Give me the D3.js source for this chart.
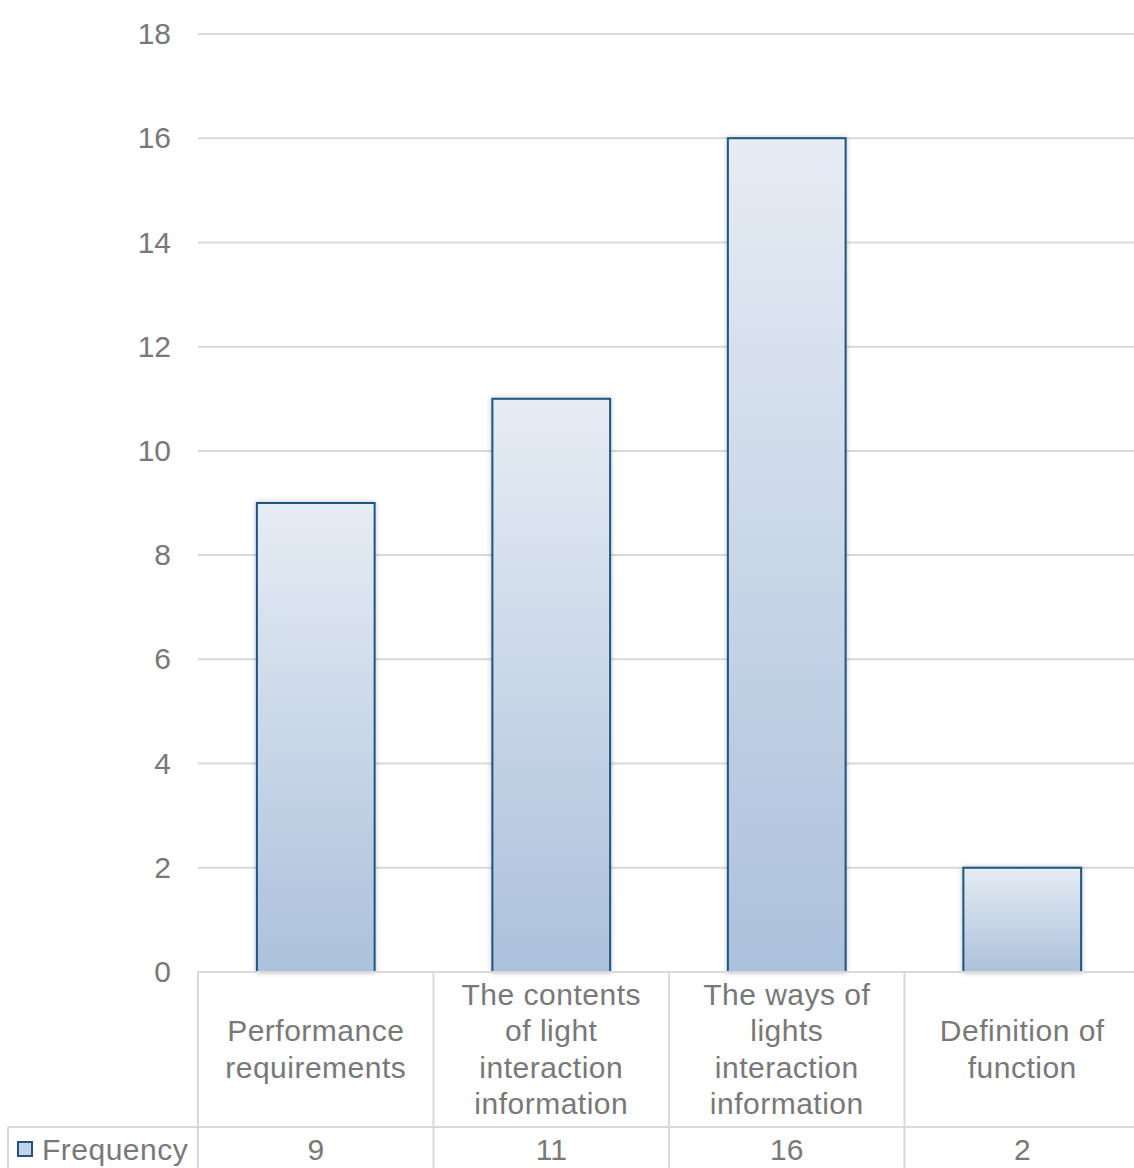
<!DOCTYPE html>
<html>
<head>
<meta charset="utf-8">
<script src="https://cdn.jsdelivr.net/npm/d3@7"></script>
<style>
  html, body { margin: 0; padding: 0; background: #fff; }
  svg { display: block; }
</style>
</head>
<body>
<svg id="chart" width="1134" height="1168"></svg>
<script>
// Frequency of requirement categories
const categories = [
  ["Performance", "requirements"],
  ["The contents", "of light", "interaction", "information"],
  ["The ways of", "lights", "interaction", "information"],
  ["Definition of", "function"]
];
const seriesName = "Frequency";
const values = [9, 11, 16, 2];
const yTicks = [0, 2, 4, 6, 8, 10, 12, 14, 16, 18];

const svg = d3.select("#chart");
const font = "Liberation Sans, Arial, sans-serif";
const fontSize = 30;
const spacing = 0.5;
const textColor = "#787878";
const gridColor = "#d9d9d9";

const plot = { left: 198, right: 1140, top: 34, bottom: 972 };
const tableMid = 1127, tableLeft = 8, tableBottom = 1200;

const x = d3.scaleBand()
  .domain(d3.range(categories.length))
  .range([plot.left, plot.right])
  .paddingInner(0.5).paddingOuter(0.25);
const band = d3.scaleBand()
  .domain(d3.range(categories.length))
  .range([plot.left, plot.right]);
const y = d3.scaleLinear().domain([0, 18]).range([plot.bottom, plot.top]);

const defs = svg.append("defs");
const shadow = defs.append("filter").attr("id", "shadow")
  .attr("x", "-20%").attr("y", "-20%").attr("width", "140%").attr("height", "140%");
shadow.append("feDropShadow").attr("dx", 0).attr("dy", 0).attr("stdDeviation", 2.5)
  .attr("flood-color", "#000").attr("flood-opacity", 0.25);

// y axis labels
const yAxis = d3.axisLeft(y).tickValues(yTicks).tickSize(0).tickPadding(27);
const gy = svg.append("g").attr("transform", `translate(${plot.left},0)`).call(yAxis);
gy.select(".domain").remove();
gy.selectAll("text")
  .attr("font-family", font).attr("font-size", fontSize).attr("fill", textColor);

// horizontal gridlines
svg.append("g").selectAll("line").data(yTicks.filter(t => t > 0)).join("line")
  .attr("x1", plot.left).attr("x2", plot.right)
  .attr("y1", d => y(d)).attr("y2", d => y(d))
  .attr("stroke", gridColor).attr("stroke-width", 2);

// bars with a vertical gradient, light at the top
const barGrad = values.map((v, i) => {
  const g = defs.append("linearGradient").attr("id", "barFill" + i)
    .attr("gradientUnits", "userSpaceOnUse")
    .attr("x1", 0).attr("x2", 0).attr("y1", y(v)).attr("y2", y(0));
  g.append("stop").attr("offset", "0%").attr("stop-color", "#e6ecf4");
  g.append("stop").attr("offset", "100%").attr("stop-color", "#acc1dc");
  return "url(#barFill" + i + ")";
});
svg.append("g").selectAll("rect").data(values).join("rect")
  .attr("x", (d, i) => x(i))
  .attr("y", d => y(d))
  .attr("width", x.bandwidth())
  .attr("height", d => y(0) - y(d))
  .attr("fill", (d, i) => barGrad[i])
  .attr("stroke", "#1f5582").attr("stroke-width", 2)
  .attr("filter", "url(#shadow)");

// data table grid
const tg = svg.append("g").attr("stroke", gridColor).attr("stroke-width", 2);
tg.append("line").attr("x1", plot.left).attr("x2", plot.right)
  .attr("y1", plot.bottom).attr("y2", plot.bottom);
tg.append("line").attr("x1", tableLeft).attr("x2", plot.right)
  .attr("y1", tableMid).attr("y2", tableMid);
tg.append("line").attr("x1", tableLeft).attr("x2", tableLeft)
  .attr("y1", tableMid).attr("y2", tableBottom);
tg.selectAll(".v").data(d3.range(categories.length)).join("line")
  .attr("x1", i => band(i)).attr("x2", i => band(i))
  .attr("y1", plot.bottom).attr("y2", tableBottom);

// category labels
const lineH = 36.5;
const cellMid = (plot.bottom + tableMid) / 2;
svg.append("g").selectAll("text").data(categories).join("text")
  .attr("font-family", font).attr("font-size", fontSize).attr("fill", textColor)
  .attr("letter-spacing", spacing)
  .attr("text-anchor", "middle")
  .each(function(lines, i) {
    const cx = band(i) + band.bandwidth() / 2;
    const first = cellMid - (lines.length - 1) * lineH / 2 + 10;
    d3.select(this).selectAll("tspan").data(lines).join("tspan")
      .attr("x", cx).attr("y", (d, k) => first + k * lineH).text(d => d);
  });

// series row
svg.append("g").selectAll("text").data(values).join("text")
  .attr("font-family", font).attr("font-size", fontSize).attr("fill", textColor)
  .attr("text-anchor", "middle")
  .attr("x", (d, i) => band(i) + band.bandwidth() / 2)
  .attr("y", 1160)
  .text(d => d);

// legend key and series name
svg.append("rect").attr("x", 18).attr("y", 1142).attr("width", 14).attr("height", 14)
  .attr("fill", "#c5d3e6").attr("stroke", "#1f5582").attr("stroke-width", 2);
svg.append("text").attr("font-family", font).attr("font-size", fontSize).attr("fill", textColor)
  .attr("letter-spacing", spacing)
  .attr("x", 42).attr("y", 1160).text(seriesName);
</script>
</body>
</html>
